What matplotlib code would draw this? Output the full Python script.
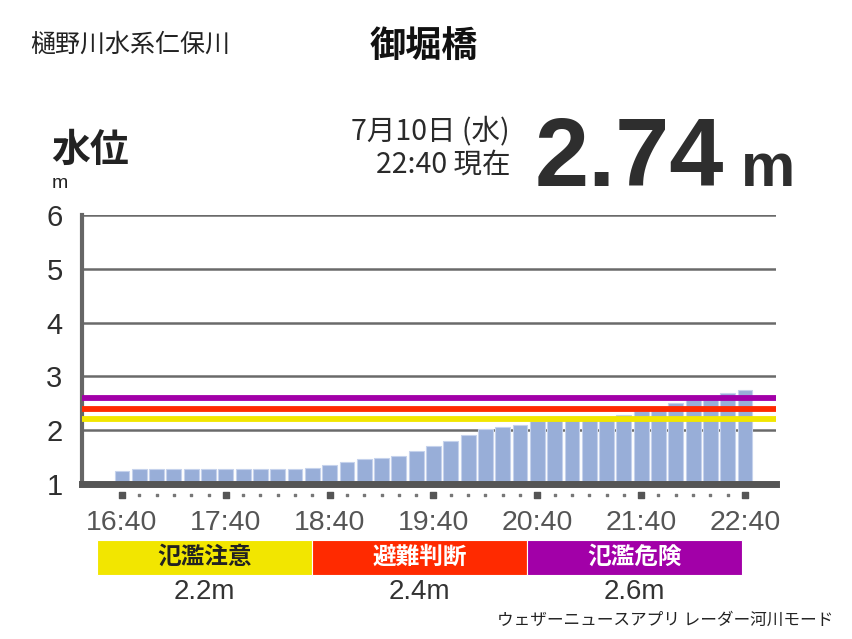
import matplotlib
matplotlib.use("Agg")
import matplotlib.pyplot as plt
from matplotlib.patches import Rectangle
from matplotlib.transforms import blended_transform_factory

# ---- data ----
times = ["16:40", "16:50", "17:00", "17:10", "17:20", "17:30",
         "17:40", "17:50", "18:00", "18:10", "18:20", "18:30",
         "18:40", "18:50", "19:00", "19:10", "19:20", "19:30",
         "19:40", "19:50", "20:00", "20:10", "20:20", "20:30",
         "20:40", "20:50", "21:00", "21:10", "21:20", "21:30",
         "21:40", "21:50", "22:00", "22:10", "22:20", "22:30",
         "22:40"]
levels = [1.25, 1.27, 1.27, 1.27, 1.27, 1.27, 1.27, 1.27, 1.27, 1.27,
          1.28, 1.30, 1.35, 1.41, 1.46, 1.48, 1.52, 1.62, 1.70,
          1.80, 1.91, 2.03, 2.06, 2.10, 2.17, 2.24, 2.24, 2.21, 2.21,
          2.28, 2.36, 2.37, 2.50, 2.58, 2.58, 2.69, 2.74]
threshold_names = ["氾濫注意", "避難判断", "氾濫危険"]
threshold_values = [2.2, 2.4, 2.6]
threshold_colors = ["#f2e600", "#ff2a00", "#a200a8"]
threshold_text_colors = ["#222222", "#ffffff", "#ffffff"]
hour_labels = ["16:40", "17:40", "18:40", "19:40", "20:40", "21:40", "22:40"]
yticks = [1, 2, 3, 4, 5, 6]

JP = ["Noto Sans CJK JP", "DejaVu Sans"]
NUM = ["Liberation Sans", "DejaVu Sans"]

fig = plt.figure(figsize=(8.52, 6.39), dpi=100)
fig.patch.set_facecolor("white")
ax = fig.add_axes([82/852, 1-484/639, (776-82)/852, (484-215)/639])

x = list(range(len(times)))
ax.bar(x, [v - 1 for v in levels], bottom=1, width=0.86,
       color="#98aed8", edgecolor="#c5d2ec", linewidth=0.8, zorder=2)

ax.set_xlim(-2.31, len(times) - 1 + 1.79)
ax.set_ylim(1, 6)

for yv in yticks[1:]:
    ax.axhline(yv, color="#6a6a6a", linewidth=1.8, zorder=1)
for v, c in zip(threshold_values, threshold_colors):
    ax.axhline(v, color=c, linewidth=4.2, zorder=3)

for s in ["top", "right"]:
    ax.spines[s].set_visible(False)
ax.spines["left"].set_color("#666666")
ax.spines["left"].set_linewidth(3)
ax.spines["bottom"].set_color("#555555")
ax.spines["bottom"].set_linewidth(5)
ax.spines["bottom"].set_zorder(4)

ax.set_yticks(yticks)
ax.set_yticklabels([str(v) for v in yticks], fontsize=21, color="#2e2e2e",
                   family=NUM)
ax.tick_params(axis="y", length=0, pad=14)

hour_pos = [times.index(h) for h in hour_labels]
ax.set_xticks(hour_pos)
ax.set_xticklabels(hour_labels, fontsize=20.5, color="#555555", family=NUM)
ax.tick_params(axis="x", length=0, pad=19)

tr = blended_transform_factory(ax.transData, ax.transAxes)
minor = [i for i in x if i not in hour_pos]
ax.scatter(hour_pos, [-0.04] * len(hour_pos), marker="s", s=22,
           color="#555555", transform=tr, clip_on=False, zorder=5)
ax.scatter(minor, [-0.04] * len(minor), marker="s", s=2,
           color="#777777", transform=tr, clip_on=False, zorder=5)

# ---- header texts ----
fig.text(30/852, 1-45/639, "樋野川水系仁保川", fontsize=18, family=JP,
         color="#222222", va="center", ha="left")
fig.text(424/852, 1-46/639, "御堀橋", fontsize=26, family=JP,
         weight="bold", color="#111111", va="center", ha="center")
fig.text(51/852, 1-150/639, "水位", fontsize=28, family=JP,
         weight="bold", color="#222222", va="center", ha="left")
fig.text(52/852, 1-183/639, "m", fontsize=14, family=NUM,
         color="#222222", va="center", ha="left")
fig.text(510/852, 1-131/639, "7月10日 (水)", fontsize=20.5, family=JP,
         color="#2a2a2a", va="center", ha="right")
fig.text(510/852, 1-165/639, "22:40 現在", fontsize=20.5, family=JP,
         color="#2a2a2a", va="center", ha="right")
fig.text(535/852, 1-186/639, f"{levels[-1]:.2f}", fontsize=70, family=NUM,
         weight="bold", color="#2e2e2e", va="baseline", ha="left")
fig.text(741/852, 1-186/639, "m", fontsize=44, family=NUM,
         weight="bold", color="#2e2e2e", va="baseline", ha="left")

# ---- threshold legend ----
box_left = [97, 312, 527]
box_w = 215
for bl, name, val, col, tc in zip(box_left, threshold_names,
                                  threshold_values, threshold_colors,
                                  threshold_text_colors):
    fig.patches.append(Rectangle((bl/852, 1-575/639), box_w/852, 35/639,
                                 transform=fig.transFigure,
                                 facecolor=col, edgecolor="white",
                                 linewidth=0.8))
    cx = (bl + box_w/2)/852
    fig.text(cx, 1-557/639, name, fontsize=17, family=JP, weight="bold",
             color=tc, va="center", ha="center")
    fig.text(cx, 1-592/639, f"{val}m", fontsize=20, family=NUM,
             color="#333333", va="center", ha="center")

fig.text(833/852, 1-620/639, "ウェザーニュースアプリ レーダー河川モード",
         fontsize=12, family=JP, color="#222222", va="center", ha="right")

fig.savefig("out.png", dpi=100, facecolor="white")
